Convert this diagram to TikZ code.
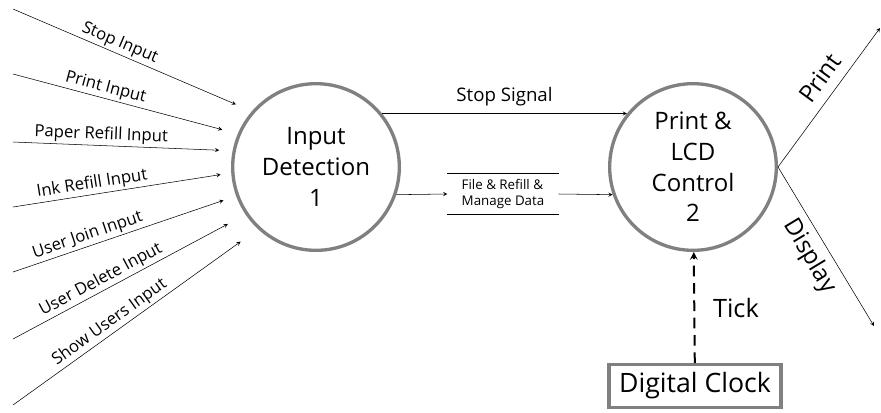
\documentclass[tikz,border=0pt]{standalone}
\usepackage{fontspec}
\setmainfont{Open Sans}
\usepackage{tikz}
\usetikzlibrary{positioning,shapes.misc,shapes.geometric,arrows}
\tikzstyle{arrow} = [->,>=stealth]
\tikzstyle{tProc} = [circle, draw=gray, line width=2.5pt, minimum size=125pt, align=center, font=\fontsize{18}{23}\selectfont]
\tikzstyle{tStore} = [rectangle, align=left, minimum width=83pt, minimum height=30pt, font=\fontsize{10}{12}\selectfont]
\tikzstyle{tClock} = [rectangle, draw=gray, line width=2.5pt, minimum width=129pt, minimum height=32pt, inner sep=1pt, font=\fontsize{20}{22}\selectfont]
\tikzstyle{tIn} = [above, sloped, inner sep=1.5pt, font=\fontsize{12.5}{15}\selectfont]
\tikzstyle{tOut} = [sloped, font=\fontsize{18}{20}\selectfont]

\begin{document}
\begin{tikzpicture}[x=0.75pt,y=-0.75pt]
        \useasboundingbox (0,0) rectangle (881,412);
        \node[tProc] (InDetect) at (316,167) {Input\\Detection\\1};
        \node[tProc] (PrintCtrl) at (693,167) {Print \&\\LCD\\Control\\2};
        \node[tStore] (DataStore) at (503,194) {File \& Refill \&\\Manage Data};
        \draw (DataStore.north west) -- (DataStore.north east) (DataStore.south west) -- (DataStore.south east);
        \node[tClock] (Clock) at (695,386) {Digital Clock};
        % inputs from the left
        \coordinate (StopIn) at (13,9);
        \coordinate (PrintIn) at (13,74);
        \coordinate (PaperIn) at (13,142);
        \coordinate (InkIn) at (13,207);
        \coordinate (JoinIn) at (13,272);
        \coordinate (DeleteIn) at (13,339);
        \coordinate (ShowIn) at (13,405);
        \draw[arrow, shorten >=13pt] (StopIn) -- node[tIn, pos=0.43] {Stop Input} (InDetect.139);
        \draw[arrow, shorten >=12pt] (PrintIn) -- node[tIn, pos=0.40] {Print Input} (InDetect.157);
        \draw[arrow, shorten >=10pt] (PaperIn) -- node[tIn, pos=0.40] {Paper Refill Input} (InDetect.169);
        \draw[arrow, shorten >=8pt] (InkIn) -- node[tIn, pos=0.37] {Ink Refill Input} (InDetect.184);
        \draw[arrow, shorten >=10pt] (JoinIn) -- node[tIn, pos=0.35] {User Join Input} (InDetect.200);
        \draw[arrow, shorten >=15pt] (DeleteIn) -- node[tIn, pos=0.40] {User Delete Input} (InDetect.214);
        \draw[arrow, shorten >=16pt] (ShowIn) -- node[tIn, pos=0.42] {Show Users Input} (InDetect.227);
        % between the processes
        \draw[arrow] (InDetect.39) -- node[above=2pt, font=\fontsize{14}{16}\selectfont] {Stop Signal} (PrintCtrl.141);
        \draw[arrow] (InDetect.-19) -- (DataStore.west);
        \draw[arrow] (DataStore.east) -- (PrintCtrl.199);
        \draw[arrow, line width=1.5pt, dash pattern=on 8pt off 5pt] (Clock) -- node[right=10pt, font=\fontsize{19}{22}\selectfont] {Tick} (PrintCtrl);
        % outputs to the right
        \coordinate (PrintEnd) at (880,28);
        \coordinate (DispEnd) at (874,326);
        \draw[arrow] (PrintCtrl.east) -- node[tOut, above=4pt, pos=0.56] {Print} (PrintEnd);
        \draw[arrow] (PrintCtrl.east) -- node[tOut, below=2pt, pos=0.5] {Display} (DispEnd);
    \end{tikzpicture}
\end{document}
